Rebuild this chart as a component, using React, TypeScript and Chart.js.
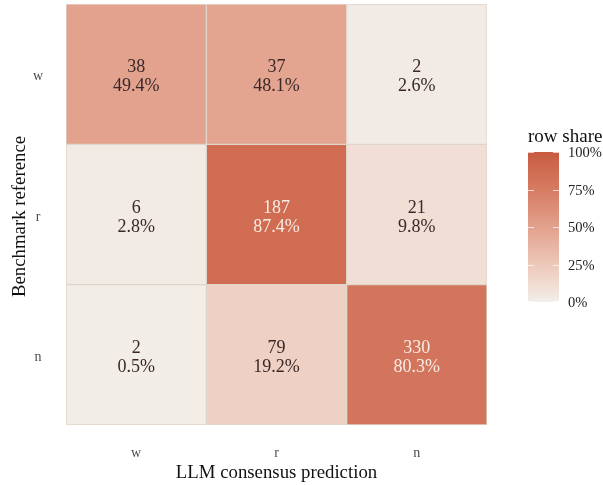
import { useEffect, useRef } from 'react';
import { Chart, registerables } from 'chart.js';

Chart.register(...registerables);

// ---- data ----
const predictedLabels = ['w', 'r', 'n']; // x axis: LLM consensus prediction
const referenceLabels = ['w', 'r', 'n']; // y axis: Benchmark reference (top to bottom)
const countsW = [38, 37, 2];
const countsR = [6, 187, 21];
const countsN = [2, 79, 330];
const legendBreaks = [0, 25, 50, 75, 100];
const legendLabels = ['0%', '25%', '50%', '75%', '100%'];

const countRows = [countsW, countsR, countsN];
const shareRows = countRows.map((row) => {
  const total = row.reduce((a, b) => a + b, 0);
  return row.map((v) => v / total);
});

// ---- styles ----
const colorStops: [number, [number, number, number]][] = [
  [0, [243, 238, 233]],
  [0.25, [237, 200, 185]],
  [0.5, [226, 161, 140]],
  [0.75, [214, 124, 99]],
  [1, [199, 91, 65]],
];
function shareColor(t: number): string {
  for (let k = 0; k < colorStops.length - 1; k++) {
    const [a, ca] = colorStops[k];
    const [b, cb] = colorStops[k + 1];
    if (t <= b) {
      const f = (t - a) / (b - a);
      const c = ca.map((v, i) => Math.round(v + (cb[i] - v) * f));
      return `rgb(${c[0]},${c[1]},${c[2]})`;
    }
  }
  const c = colorStops[colorStops.length - 1][1];
  return `rgb(${c[0]},${c[1]},${c[2]})`;
}

const SERIF = '"Liberation Serif", "Times New Roman", serif';

const overlayPlugin = {
  id: 'overlay',
  afterDatasetsDraw(chart: any) {
    const ctx: CanvasRenderingContext2D = chart.ctx;
    const xs = chart.scales.x;
    const ys = chart.scales.y;
    const area = chart.chartArea;
    ctx.save();

    // cell labels
    ctx.textAlign = 'center';
    ctx.textBaseline = 'alphabetic';
    ctx.font = `18px ${SERIF}`;
    chart.data.datasets.forEach((_ds: any, i: number) => {
      const meta = chart.getDatasetMeta(i);
      meta.data.forEach((bar: any, j: number) => {
        const p = bar.getProps(['x', 'y', 'base'], true);
        const cy = (p.y + p.base) / 2;
        const share = shareRows[i][j];
        ctx.fillStyle = share > 0.7 ? '#f8ebe4' : '#3a2828';
        ctx.fillText(String(countRows[i][j]), p.x, cy - 2);
        ctx.fillText((share * 100).toFixed(1) + '%', p.x, cy + 17);
      });
    });

    // tick labels
    ctx.fillStyle = '#4d4d4d';
    ctx.font = `14px ${SERIF}`;
    ctx.textBaseline = 'alphabetic';
    predictedLabels.forEach((lab, j) => {
      ctx.fillText(lab, xs.getPixelForValue(j), area.bottom + 32);
    });
    referenceLabels.forEach((lab, i) => {
      ctx.fillText(lab, area.left - 28, ys.getPixelForValue(i + 0.5) + 6);
    });

    // axis titles
    ctx.fillStyle = '#111';
    ctx.font = `18.8px ${SERIF}`;
    ctx.fillText('LLM consensus prediction', (area.left + area.right) / 2, area.bottom + 53);
    ctx.save();
    ctx.translate(area.left - 41, (area.top + area.bottom) / 2 + 2);
    ctx.rotate(-Math.PI / 2);
    ctx.fillText('Benchmark reference', 0, 0);
    ctx.restore();

    // legend
    const lx = 528, ly = 152, lw = 31, lh = 150;
    ctx.textAlign = 'left';
    ctx.font = `19px ${SERIF}`;
    ctx.fillStyle = '#111';
    ctx.fillText('row share', lx, 142);
    const grad = ctx.createLinearGradient(0, ly + lh, 0, ly);
    for (let s = 0; s <= 20; s++) {
      grad.addColorStop(s / 20, shareColor(s / 20));
    }
    ctx.fillStyle = grad;
    ctx.fillRect(lx, ly, lw, lh);
    ctx.strokeStyle = 'rgba(255,255,255,0.7)';
    ctx.lineWidth = 1;
    ctx.font = `14.5px ${SERIF}`;
    ctx.textBaseline = 'middle';
    legendBreaks.forEach((b, k) => {
      const ty = Math.round(ly + lh - (b / 100) * lh) + 0.5;
      const yy = Math.min(Math.max(ty, ly + 0.5), ly + lh - 0.5);
      ctx.beginPath();
      ctx.moveTo(lx, yy);
      ctx.lineTo(lx + 6, yy);
      ctx.moveTo(lx + lw - 6, yy);
      ctx.lineTo(lx + lw, yy);
      ctx.stroke();
      ctx.fillStyle = '#222';
      ctx.fillText(legendLabels[k], lx + 40, ty + 1);
    });

    ctx.restore();
  },
};

export default function App() {
  const ref = useRef<HTMLCanvasElement>(null);
  useEffect(() => {
    if (!ref.current) return;
    const datasets = referenceLabels.map((lab, i) => ({
      label: lab,
      data: predictedLabels.map(() => [i, i + 1]),
      backgroundColor: shareRows[i].map((s) => shareColor(s)),
      borderColor: '#e0d5cb',
      borderWidth: 1,
      borderSkipped: false,
      grouped: false,
      barPercentage: 1,
      categoryPercentage: 1,
    }));
    const chart = new Chart(ref.current, {
      type: 'bar',
      data: { labels: predictedLabels, datasets: datasets as any },
      options: {
        responsive: false,
        animation: false,
        devicePixelRatio: 1,
        layout: { padding: { left: 66, top: 4, right: 116, bottom: 60 } },
        plugins: { legend: { display: false }, tooltip: { enabled: false } },
        scales: {
          x: { type: 'category', display: false },
          y: { type: 'linear', min: 0, max: 3, reverse: true, display: false },
        },
      },
      plugins: [overlayPlugin],
    });
    return () => chart.destroy();
  }, []);
  return (
    <div style={{ position: 'fixed', left: 0, top: 0, width: 603, height: 485, background: '#fff' }}>
      <canvas ref={ref} width={603} height={485} style={{ display: 'block' }} />
    </div>
  );
}
